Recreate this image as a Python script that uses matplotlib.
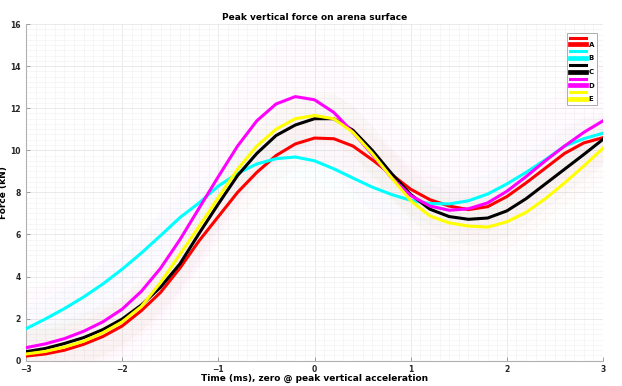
import numpy as np
import matplotlib
matplotlib.use("Agg")
import matplotlib.pyplot as plt
from matplotlib.lines import Line2D
from matplotlib.ticker import MultipleLocator

# time axis (ms), zero at peak vertical acceleration
t = [-3.0, -2.8, -2.6, -2.4, -2.2, -2.0, -1.8, -1.6, -1.4, -1.2, -1.0,
     -0.8, -0.6, -0.4, -0.2, 0.0, 0.2, 0.4, 0.6, 0.8, 1.0,
     1.2, 1.4, 1.6, 1.8, 2.0, 2.2, 2.4, 2.6, 2.8, 3.0]

force_a = [0.22, 0.32, 0.50, 0.78, 1.15, 1.65, 2.38, 3.25, 4.40, 5.70, 6.85,
           8.00, 8.95, 9.75, 10.30, 10.58, 10.55, 10.20, 9.55, 8.85, 8.15,
           7.65, 7.35, 7.18, 7.32, 7.80, 8.45, 9.15, 9.85, 10.35, 10.60]
force_b = [1.52, 1.98, 2.48, 3.03, 3.65, 4.35, 5.12, 5.95, 6.80, 7.50, 8.30,
           8.90, 9.35, 9.60, 9.68, 9.50, 9.12, 8.68, 8.25, 7.90, 7.62,
           7.47, 7.45, 7.60, 7.92, 8.40, 8.95, 9.55, 10.20, 10.55, 10.81]
force_c = [0.43, 0.58, 0.82, 1.10, 1.48, 1.98, 2.65, 3.50, 4.60, 6.05, 7.45,
           8.80, 9.85, 10.70, 11.20, 11.50, 11.50, 10.95, 10.00, 8.90, 7.90,
           7.20, 6.85, 6.72, 6.78, 7.12, 7.70, 8.40, 9.10, 9.80, 10.52]
force_d = [0.62, 0.80, 1.05, 1.40, 1.85, 2.45, 3.30, 4.40, 5.75, 7.25, 8.75,
           10.20, 11.40, 12.20, 12.55, 12.40, 11.80, 10.85, 9.80, 8.70, 7.85,
           7.35, 7.15, 7.22, 7.50, 8.05, 8.75, 9.50, 10.20, 10.85, 11.40]
force_e = [0.32, 0.44, 0.65, 0.93, 1.33, 1.85, 2.58, 3.72, 5.05, 6.38, 7.75,
           9.10, 10.20, 11.00, 11.50, 11.65, 11.50, 10.85, 9.85, 8.70, 7.60,
           6.88, 6.55, 6.40, 6.35, 6.60, 7.05, 7.70, 8.45, 9.25, 10.10]

labels = ['A', 'B', 'C', 'D', 'E']
colors = ['#ff0000', '#00ffff', '#000000', '#ff00ff', '#ffff00']
band = [1.2, 1.0, 1.2, 2.8, 1.2]   # half-width of faint spread bands (kN)

series = [force_a, force_b, force_c, force_d, force_e]

fig = plt.figure(figsize=(6.22, 3.86), dpi=100)
ax = fig.add_axes([0.0418, 0.0655, 0.9277, 0.8723])

tt = np.array(t)
for y, c, w in zip(series, colors, band):
    y = np.array(y)
    ax.fill_between(tt, y - w, y + w, color=c, alpha=0.015, lw=0, zorder=1)
for y, c in zip(series, colors):
    ax.plot(t, y, color=c, lw=2.2, zorder=3, solid_joinstyle='round')

ax.set_xlim(-3, 3)
ax.set_ylim(0, 16)
ax.xaxis.set_major_locator(MultipleLocator(1))
ax.xaxis.set_minor_locator(MultipleLocator(0.1))
ax.yaxis.set_major_locator(MultipleLocator(2))
ax.yaxis.set_minor_locator(MultipleLocator(0.25))
ax.grid(True, which='major', color='#e6e6e6', lw=0.6, zorder=0)
ax.grid(True, which='minor', color='#f3f3f3', lw=0.5, zorder=0)
ax.set_axisbelow(True)

for s in ['top', 'right']:
    ax.spines[s].set_visible(False)
for s in ['left', 'bottom']:
    ax.spines[s].set_color('#b0b0b0')
    ax.spines[s].set_linewidth(0.8)
ax.tick_params(which='major', direction='in', length=3, width=0.6,
               color='#909090', labelsize=5.5)
ax.tick_params(axis='x', which='major', pad=3)
ax.tick_params(axis='y', which='major', pad=4)
ax.tick_params(which='minor', length=0)
for lab in ax.get_xticklabels() + ax.get_yticklabels():
    lab.set_fontweight('bold')
    lab.set_color('#262626')

ax.set_title('Peak vertical force on arena surface', fontsize=6.5,
             fontweight='bold', pad=3)
ax.set_xlabel('Time (ms), zero @ peak vertical acceleration', fontsize=6.5,
              fontweight='bold', labelpad=0)
ax.set_ylabel('Force (kN)', fontsize=6.5, fontweight='bold')
ax.yaxis.set_label_coords(-0.031, 0.5)

handles = []
names = []
for lab, c in zip(labels, colors):
    handles.append(Line2D([], [], color=c, lw=2.2))
    names.append(' ')
    handles.append(Line2D([], [], color=c, lw=3.4))
    names.append(lab)
leg = ax.legend(handles, names, loc='upper right', bbox_to_anchor=(0.995, 0.985),
                fontsize=5, handlelength=2.4, handletextpad=0.3, labelspacing=0.12,
                borderpad=0.35, fancybox=False, framealpha=1, edgecolor='#a0a0a0')
leg.get_frame().set_linewidth(0.6)
for txt in leg.get_texts():
    txt.set_fontweight('bold')

fig.savefig('out.png', dpi=100)
